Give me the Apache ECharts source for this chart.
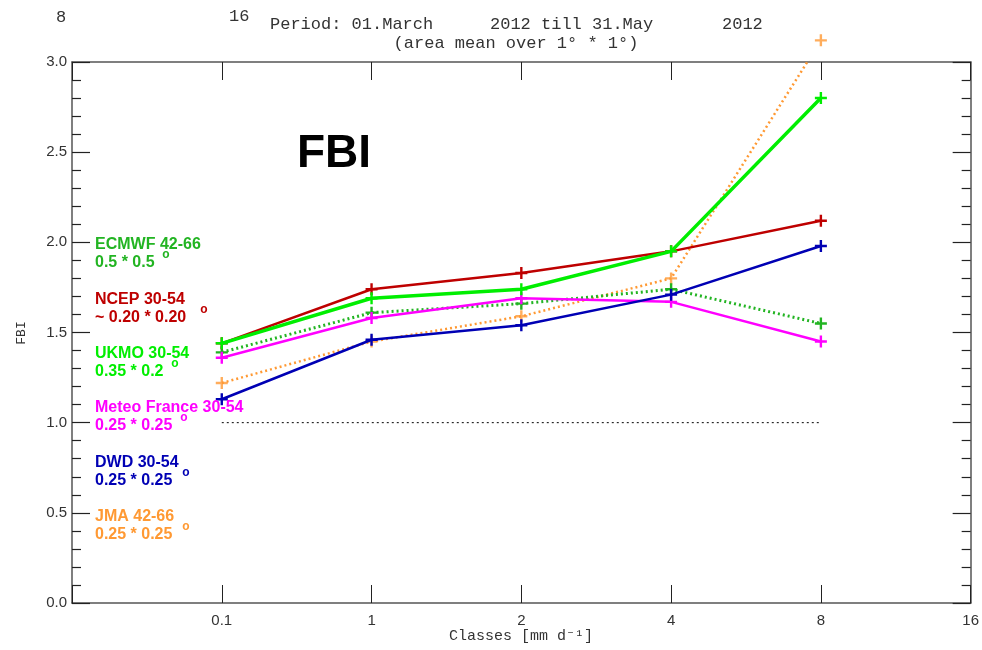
<!DOCTYPE html>
<html>
<head>
<meta charset="utf-8">
<script src="https://cdn.jsdelivr.net/npm/echarts@6/dist/echarts.min.js"></script>
<style>html,body{margin:0;padding:0;background:#fff;}#c{width:982px;height:650px;}</style>
</head>
<body>
<div id="c"></div>
<script>
// ---- data ----
const categories = ['0.1', '1', '2', '4', '8'];
const tickLabels = ['0.1', '1', '2', '4', '8', '16'];
const ecmwf = [1.39, 1.61, 1.66, 1.74, 1.55];
const ncep = [1.44, 1.74, 1.83, 1.95, 2.12];
const ukmo = [1.44, 1.69, 1.74, 1.95, 2.80];
const meteoFrance = [1.36, 1.58, 1.69, 1.67, 1.45];
const dwd = [1.13, 1.46, 1.54, 1.71, 1.98];
const jma = [1.22, 1.45, 1.59, 1.80, 3.12];
const refLevel = [1.0, 1.0];
const refRange = ['0.1', '8'];

// ---- helpers ----
const pos = c => categories.indexOf(c) + 1;
const pts = arr => arr.map((v, i) => [i + 1, v]);
const PLUS = 'path://M4,0H6V4H10V6H6V10H4V6H0V4H4Z';

const C = {
  ecmwf: '#22b422', ncep: '#be0000', ukmo: '#00ee00',
  mf: '#ff00ff', dwd: '#0000b4', jma: '#ff9933'
};

function lineSeries(name, arr, color, width, type, z) {
  return {
    name, type: 'line', data: pts(arr), z: z,
    symbol: PLUS, symbolSize: 12,
    itemStyle: { color },
    lineStyle: { color, width, type: type || 'solid' },
    animation: false, clip: true
  };
}

const chart = echarts.init(document.getElementById('c'), null, { renderer: 'canvas' });

const font = 'Liberation Sans, Arial, sans-serif';
const mono = 'Liberation Mono, DejaVu Sans Mono, monospace';
const axisCol = '#555';
const tickCol = '#222';

const xBase = {
  type: 'value', min: 0, max: 6, interval: 1,
  axisLine: { show: true, onZero: false, lineStyle: { color: axisCol, width: 1.5 } },
  axisTick: { show: true, inside: true, length: 18, lineStyle: { color: tickCol, width: 1 } },
  splitLine: { show: false }
};
const yBase = {
  type: 'value', min: 0, max: 3, interval: 0.5,
  axisLine: { show: true, onZero: false, lineStyle: { color: axisCol, width: 1.5 } },
  axisTick: { show: true, inside: true, length: 18, lineStyle: { color: tickCol, width: 1.2 } },
  minorTick: { show: true, splitNumber: 5, length: 9, lineStyle: { color: tickCol, width: 1.2 } },
  splitLine: { show: false }
};

const legendItems = [
  { t1: 'ECMWF 42-66', t2: '0.5 * 0.5', c: C.ecmwf, y: 245, ox: 166 },
  { t1: 'NCEP 30-54', t2: '~ 0.20 * 0.20', c: C.ncep, y: 300, ox: 204 },
  { t1: 'UKMO 30-54', t2: '0.35 * 0.2', c: C.ukmo, y: 354, ox: 175 },
  { t1: 'Meteo France 30-54', t2: '0.25 * 0.25', c: C.mf, y: 408, ox: 184 },
  { t1: 'DWD 30-54', t2: '0.25 * 0.25', c: C.dwd, y: 463, ox: 186 },
  { t1: 'JMA 42-66', t2: '0.25 * 0.25', c: C.jma, y: 517, ox: 186 }
];
const graphics = [];
legendItems.forEach(it => {
  graphics.push({ type: 'text', x: 95, y: it.y, z: 50,
    style: { text: it.t1, fill: it.c, font: 'bold 16px ' + font, textVerticalAlign: 'middle' } });
  graphics.push({ type: 'text', x: 95, y: it.y + 18, z: 50,
    style: { text: it.t2, fill: it.c, font: 'bold 16px ' + font, textVerticalAlign: 'middle' } });
  graphics.push({ type: 'text', x: it.ox, y: it.y + 10, z: 50,
    style: { text: 'o', fill: it.c, font: 'bold 12px ' + font, textAlign: 'center', textVerticalAlign: 'middle' } });
});
const txt = (x, y, s, size, align) => ({ type: 'text', x: x, y: y, z: 50,
  style: { text: s, fill: '#333', font: size + 'px ' + mono, textAlign: align || 'left', textVerticalAlign: 'middle' } });
graphics.push(txt(56, 17, '8', 17));
graphics.push(txt(229, 16, '16', 17));
graphics.push(txt(270, 24, 'Period: 01.March', 17));
graphics.push(txt(490, 24, '2012 till 31.May', 17));
graphics.push(txt(722, 24, '2012', 17));
graphics.push(txt(516, 43, '(area mean over 1\u00B0 * 1\u00B0)', 17, 'center'));
graphics.push({ type: 'text', x: 297, y: 154, z: 50,
  style: { text: 'FBI', fill: '#000', font: 'bold 46px ' + font, textVerticalAlign: 'middle' } });
graphics.push({ type: 'text', x: 22, y: 333, rotation: Math.PI / 2, z: 50,
  style: { text: 'FBI', fill: '#333', font: '13px ' + mono, textAlign: 'center', textVerticalAlign: 'middle' } });
graphics.push({ type: 'text', x: 521, y: 636, z: 50,
  style: { text: 'Classes [mm d\u207B\u00B9]', fill: '#333', font: '15px ' + mono, textAlign: 'center', textVerticalAlign: 'middle' } });

chart.setOption({
  backgroundColor: '#fff',
  animation: false,
  grid: { left: 72, right: 11, top: 62, bottom: 47, containLabel: false },
  xAxis: [
    Object.assign({}, xBase, { position: 'bottom',
      axisLabel: { show: true, margin: 10, color: '#333', fontSize: 15, fontFamily: font,
        formatter: v => (v >= 1 && v <= tickLabels.length) ? tickLabels[v - 1] : '' } }),
    Object.assign({}, xBase, { position: 'top', axisLabel: { show: false } })
  ],
  yAxis: [
    Object.assign({}, yBase, { position: 'left',
      axisLabel: { show: true, margin: 5, color: '#333', fontSize: 15, fontFamily: font,
        formatter: v => v.toFixed(1) } }),
    Object.assign({}, yBase, { position: 'right', axisLabel: { show: false } })
  ],
  graphic: graphics,
  series: [
    {
      name: 'ref', type: 'line', data: refRange.map((c, i) => [pos(c), refLevel[i]]),
      symbol: 'none', lineStyle: { color: '#000', width: 1, type: [2, 3] }, z: 1, silent: true
    },
    Object.assign(lineSeries('JMA', jma, C.jma, 2.5, [2, 3], 2), { symbol: 'none' }),
    {
      name: 'JMA markers', type: 'scatter', data: pts(jma), symbol: PLUS, symbolSize: 12,
      itemStyle: { color: C.jma }, clip: false, z: 2
    },
    lineSeries('ECMWF', ecmwf, C.ecmwf, 3, [2, 3], 3),
    lineSeries('Meteo France', meteoFrance, C.mf, 2.5, 'solid', 4),
    lineSeries('DWD', dwd, C.dwd, 2.5, 'solid', 5),
    lineSeries('NCEP', ncep, C.ncep, 2.5, 'solid', 6),
    lineSeries('UKMO', ukmo, C.ukmo, 3.5, 'solid', 7)
  ]
});
</script>
</body>
</html>
